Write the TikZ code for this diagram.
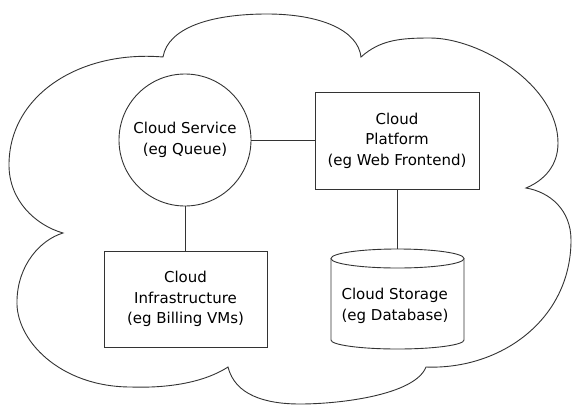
\documentclass[tikz,border=0pt]{standalone}
\usepackage{fontspec}
\setmainfont{DejaVu Sans}
\newcommand\lblfont{\fontsize{15}{20.5}\selectfont}
\tikzset{
  ln/.style={draw=black!80, line width=0.9pt},
  lbl/.style={font=\lblfont, align=center, inner sep=0pt},
  boxnode/.style={ln, lbl, fill=white, rectangle},
  circnode/.style={ln, lbl, fill=white, circle, minimum size=132pt}
}
\begin{document}
\begin{tikzpicture}[x=1pt, y=-1pt]
\useasboundingbox (0,0) rectangle (573,405);
% cloud
\draw[ln, fill=white]
  (63,233) .. controls (35,225) and (9,200) .. (9,165)
  .. controls (9,95) and (80,50) .. (163,57)
  .. controls (168,28) and (210,14) .. (267,14)
  .. controls (320,14) and (358,30) .. (361,57)
  .. controls (380,40) and (400,38) .. (430,38)
  .. controls (480,38) and (558,85) .. (558,143)
  .. controls (558,165) and (545,180) .. (526,188)
  .. controls (550,192) and (571,210) .. (571,240)
  .. controls (571,320) and (500,370) .. (426,367)
  .. controls (415,395) and (340,404) .. (300,404)
  .. controls (265,404) and (235,395) .. (228,367)
  .. controls (200,385) and (160,388) .. (131,387)
  .. controls (60,387) and (15,340) .. (17,300)
  .. controls (18,265) and (40,240) .. (63,233)
  -- cycle;
% cylinder
\draw[ln, fill=white] (331,258.5) -- (331,340) arc[start angle=180, end angle=360, x radius=66.5pt, y radius=9pt] -- (464,258.5);
\draw[ln, fill=white] (397.5,258.5) ellipse [x radius=66.5pt, y radius=9.5pt];
\coordinate (cyltop) at (397.5,249);
% nodes
\node[circnode] (svc) at (185,140) {\raisebox{-2pt}{\begin{tabular}{@{}c@{}}Cloud Service\\[0.5pt](eg Queue)\end{tabular}}};
\node[boxnode, minimum width=164pt, minimum height=97pt] (plat) at (397,140.5) {Cloud\\Platform\\(eg Web Frontend)};
\node[boxnode, minimum width=163pt, minimum height=96pt] (infra) at (185.5,299) {Cloud\\Infrastructure\\(eg Billing VMs)};
\node[lbl, align=left] (store) at (395,306) {Cloud Storage\\(eg Database)};
% connectors
\draw[ln] (svc.east) -- (svc.east -| plat.west);
\draw[ln] (svc.south) -- (svc.south |- infra.north);
\draw[ln] (plat.south) -- (plat.south |- cyltop);
\end{tikzpicture}
\end{document}
